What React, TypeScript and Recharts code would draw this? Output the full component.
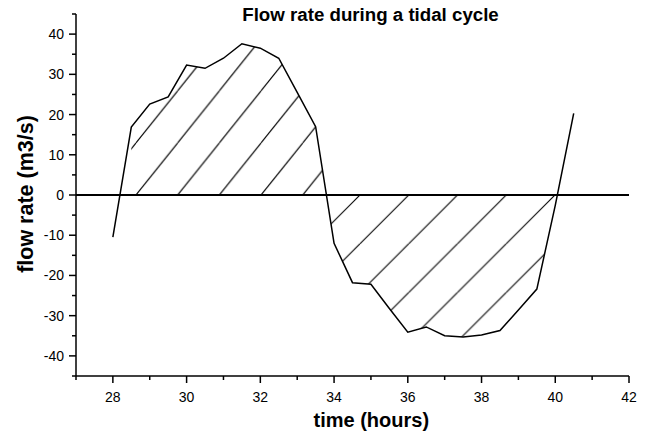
import { ComposedChart, Line, Area, XAxis, YAxis, ReferenceLine } from 'recharts';

// time in hours, flow rate in m3/s
const hours = [28, 28.5, 29, 29.5, 30, 30.5, 31, 31.5, 32, 32.5, 33, 33.5, 34, 34.5, 35, 35.5, 36, 36.5, 37, 37.5, 38, 38.5, 39, 39.5, 40, 40.5];
const flowRate = [-10.5, 16.9, 22.6, 24.4, 32.3, 31.5, 34.0, 37.6, 36.5, 34.0, 25.5, 17.0, -12.0, -21.8, -22.2, -28.2, -34.1, -32.8, -35.0, -35.3, -34.8, -33.7, -28.6, -23.4, -2.6, 20.3];

const xTicks = [27, 28, 29, 30, 31, 32, 33, 34, 35, 36, 37, 38, 39, 40, 41, 42];
const yTicks = [-45, -40, -35, -30, -25, -20, -15, -10, -5, 0, 5, 10, 15, 20, 25, 30, 35, 40, 45];

const last = hours.length - 1;
const data = hours.map((t, i) => ({
  t,
  flow: flowRate[i],
  // hatching only between the zero crossings, so leave the two tail points out
  hatch: i === 0 || i === last ? null : flowRate[i],
}));

const W = 649;
const H = 437;
const TICK = 7;
const X_GAP = 9;
const Y_GAP = 5;
const ZERO_Y = 195; // top margin 14 + half of 362px plot height
const FONT = '"Liberation Sans", Arial, sans-serif';
const HATCH_W = 1.1;

function TimeTick(props: any) {
  const { x, y, payload } = props;
  const major = payload.value % 2 === 0;
  const axisY = y - TICK - X_GAP;
  return (
    <g>
      <line x1={x} y1={axisY} x2={x} y2={axisY + (major ? TICK : 4)} stroke="#000" strokeWidth={1.5} />
      {major && (
        <text x={x} y={y} dy="0.71em" textAnchor="middle" fontSize={14} fontFamily={FONT} fill="#000">
          {payload.value}
        </text>
      )}
    </g>
  );
}

function FlowTick(props: any) {
  const { x, y, payload } = props;
  const major = payload.value % 10 === 0;
  const axisX = x + TICK + Y_GAP;
  return (
    <g>
      <line x1={axisX - (major ? TICK : 4)} y1={y} x2={axisX} y2={y} stroke="#000" strokeWidth={1.5} />
      {major && (
        <text x={x} y={y} dy="0.355em" textAnchor="end" fontSize={14} fontFamily={FONT} fill="#000">
          {payload.value}
        </text>
      )}
    </g>
  );
}

export default function App() {
  return (
    <div style={{ position: 'relative', width: W, height: H, background: '#fff' }}>
      <style>{'body{margin:0}'}</style>
      <ComposedChart width={W} height={H} data={data} margin={{ top: 14, right: 20, bottom: 31, left: 16 }}>
        <defs>
          <pattern id="hatchUp" patternUnits="userSpaceOnUse" x={10.9} y={38.7} width={41.7} height={52.1}>
            <line x1={0} y1={52.1} x2={41.7} y2={0} stroke="#000" strokeWidth={HATCH_W} />
            <line x1={-41.7} y1={52.1} x2={0} y2={0} stroke="#000" strokeWidth={HATCH_W} />
            <line x1={41.7} y1={52.1} x2={83.4} y2={0} stroke="#000" strokeWidth={HATCH_W} />
          </pattern>
          <pattern id="hatchDown" patternUnits="userSpaceOnUse" x={18.75} y={0} width={48.75} height={48.75}>
            <line x1={0} y1={48.75} x2={48.75} y2={0} stroke="#000" strokeWidth={HATCH_W} />
            <line x1={-48.75} y1={48.75} x2={0} y2={0} stroke="#000" strokeWidth={HATCH_W} />
            <line x1={48.75} y1={48.75} x2={97.5} y2={0} stroke="#000" strokeWidth={HATCH_W} />
          </pattern>
          <pattern id="hatch" patternUnits="userSpaceOnUse" x={0} y={0} width={W} height={H}>
            <rect x={0} y={0} width={W} height={ZERO_Y} fill="url(#hatchUp)" />
            <rect x={0} y={ZERO_Y} width={W} height={H - ZERO_Y} fill="url(#hatchDown)" />
          </pattern>
        </defs>
        <XAxis
          dataKey="t"
          type="number"
          domain={[27, 42]}
          ticks={xTicks}
          interval={0}
          height={30}
          tickSize={TICK}
          tickMargin={X_GAP}
          tickLine={false}
          axisLine={{ stroke: '#000', strokeWidth: 1.5 }}
          tick={TimeTick}
        />
        <YAxis
          type="number"
          domain={[-45, 45]}
          ticks={yTicks}
          interval={0}
          width={60}
          tickSize={TICK}
          tickMargin={Y_GAP}
          tickLine={false}
          axisLine={{ stroke: '#000', strokeWidth: 1.5 }}
          tick={FlowTick}
        />
        <Area
          dataKey="hatch"
          type="linear"
          baseValue={0}
          stroke="none"
          fill="url(#hatch)"
          fillOpacity={1}
          isAnimationActive={false}
        />
        <ReferenceLine y={0} stroke="#000" strokeWidth={2} />
        <Line
          dataKey="flow"
          type="linear"
          stroke="#000"
          strokeWidth={1.5}
          dot={false}
          activeDot={false}
          isAnimationActive={false}
        />
      </ComposedChart>
      <svg width={W} height={H} style={{ position: 'absolute', left: 0, top: 0, pointerEvents: 'none' }}>
        <text x={370.5} y={20.7} textAnchor="middle" fontSize={18.7} fontWeight="bold" fontFamily={FONT} fill="#000">
          Flow rate during a tidal cycle
        </text>
        <text x={371.3} y={427} textAnchor="middle" fontSize={20} fontWeight="bold" fontFamily={FONT} fill="#000">
          time (hours)
        </text>
        <text
          transform="translate(33,194) rotate(-90)"
          textAnchor="middle"
          fontSize={21.5}
          fontWeight="bold"
          fontFamily={FONT}
          fill="#000"
        >
          flow rate (m3/s)
        </text>
      </svg>
    </div>
  );
}
